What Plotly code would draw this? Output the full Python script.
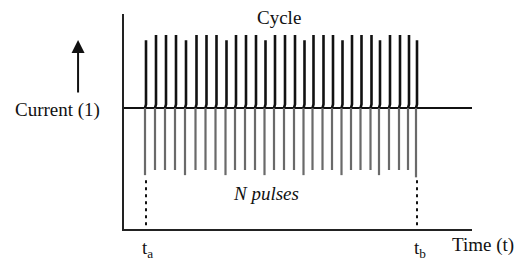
import plotly.graph_objects as go

# Pulse times (arbitrary time units)
pulse_time = [2.2, 3.2, 4.2, 5.2, 6.2, 7.25, 8.25, 9.25, 10.25, 11.2, 12.2, 13.2, 14.15,
              15.1, 16.1, 17.1, 18.05, 18.95, 19.95, 20.9, 21.85, 22.8, 23.75, 24.75,
              25.6, 26.6, 27.6, 28.5, 29.3]
# Positive (black) and negative (grey) amplitudes of each pulse
pos_amp = [0.93, 1.0, 1.0, 1.0, 0.93, 1.0, 1.0, 1.0, 0.93, 1.0, 1.0, 1.0, 0.93, 1.0, 1.0,
           1.0, 0.93, 1.0, 1.0, 1.0, 0.93, 1.0, 1.0, 1.0, 0.93, 1.0, 1.0, 1.0, 0.93]
neg_amp = [-0.92, -0.85, -0.85, -0.85, -0.92, -0.85, -0.85, -0.85, -0.92, -0.85, -0.85,
           -0.85, -0.92, -0.85, -0.85, -0.85, -0.92, -0.85, -0.85, -0.85, -0.92, -0.85,
           -0.85, -0.85, -0.92, -0.85, -0.85, -0.85, -0.95]
t_a = 2.2
t_b = 29.3
dash_top = -0.99
x_range = [0, 34.8]
y_range = [-1.658, 1.288]

FONT = "Liberation Serif"

px_, py_ = [], []
nx_, ny_ = [], []
for t, p, n in zip(pulse_time, pos_amp, neg_amp):
    px_ += [t, t, t - 0.1, None]
    py_ += [p, 0.05, 0, None]
    nx_ += [t - 0.1, t - 0.1, None]
    ny_ += [0, n, None]

fig = go.Figure()
fig.add_trace(go.Scatter(x=nx_, y=ny_, mode="lines",
                         line=dict(color="#6a6a6a", width=2.2), hoverinfo="skip"))
fig.add_trace(go.Scatter(x=px_, y=py_, mode="lines",
                         line=dict(color="#111111", width=2.6), hoverinfo="skip"))
for t in (t_a, t_b):
    fig.add_trace(go.Scatter(x=[t, t], y=[dash_top, y_range[0]], mode="lines",
                             line=dict(color="#111111", width=2, dash="3px,4px"),
                             hoverinfo="skip"))

# page body adds an 8px margin, so the figure is 8px smaller on each axis
fig.update_layout(
    width=514, height=254,
    margin=dict(l=116, r=50, t=6, b=33),
    paper_bgcolor="white", plot_bgcolor="white",
    showlegend=False,
    xaxis=dict(range=x_range, showgrid=False, zeroline=False, showticklabels=False,
               ticks="", showline=True, linecolor="#222222", linewidth=2),
    yaxis=dict(range=y_range, showgrid=False, zeroline=True, zerolinecolor="#111111",
               zerolinewidth=2, showticklabels=False, ticks="", showline=True,
               linecolor="#222222", linewidth=2),
    font=dict(family=FONT, size=19, color="#111111"),
)

ann = dict(xref="paper", yref="paper", showarrow=False, font=dict(family=FONT, size=19, color="#111111"))
fig.add_annotation(text="Cycle", x=0.445, y=0.986, xanchor="center", yanchor="middle", **ann)
fig.add_annotation(text="Current (1)", x=-0.19, y=0.553, xanchor="center", yanchor="middle", **ann)
fig.add_annotation(text="<i>N pulses</i>", x=0.408, y=0.167, xanchor="center", yanchor="middle", **ann)
fig.add_annotation(text="Time (t)", x=1.032, y=-0.074, xanchor="center", yanchor="middle", **ann)
fig.add_annotation(text="t<sub>a</sub>", x=0.068, y=-0.095, xanchor="center", yanchor="middle", **ann)
fig.add_annotation(text="t<sub>b</sub>", x=0.85, y=-0.095, xanchor="center", yanchor="middle", **ann)
# Upward arrow beside the current label
fig.add_annotation(xref="paper", yref="paper", x=-0.132, y=0.879, ax=0, ay=54,
                   text="", showarrow=True, arrowhead=2, arrowsize=1.3, arrowwidth=2,
                   arrowcolor="#111111")

fig.write_html("out.html")
